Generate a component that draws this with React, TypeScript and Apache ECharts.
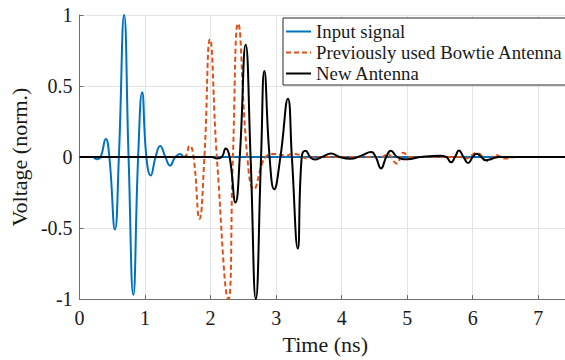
import React, { useEffect, useRef } from "react";
import * as echarts from "echarts";

// Input signal (time in ns, normalised voltage)
const inputT = [0, 0.2, 0.26, 0.32, 0.4, 0.455, 0.54, 0.6, 0.68, 0.748, 0.82, 0.894, 0.955, 1.02, 1.086, 1.16, 1.23, 1.31, 1.38, 1.46, 1.535, 1.6, 1.7, 7.5];
const inputV = [0, 0, -0.015, 0, 0.127, 0, -0.51, 0, 1.0, 0, -0.97, 0, 0.456, 0, -0.13, 0, 0.078, 0, -0.06, 0, 0.022, 0, 0, 0];

// Previously used Bowtie Antenna
const bowT = [0, 1.58, 1.68, 1.74, 1.83, 1.905, 1.99, 2.095, 2.27, 2.34, 2.42, 2.56, 2.66, 2.79, 2.84, 2.92, 3.02, 3.14, 3.25, 3.36, 3.47, 3.6, 4.6, 4.7, 4.84, 4.94, 5.05, 5.8, 5.9, 6.06, 6.24, 6.35, 6.5, 6.65, 7.5];
const bowV = [0, 0, 0.08, 0, -0.435, 0, 0.83, 0, -1.0, 0, 0.94, 0, -0.227, -0.04, 0, 0.022, 0.02, 0.01, 0.022, 0.015, -0.01, 0, 0, 0.02, -0.045, 0.03, 0, 0, -0.01, 0.03, -0.03, 0.015, -0.01, 0, 0];

// New Antenna
const newT = [0, 2.02, 2.1, 2.17, 2.23, 2.29, 2.38, 2.445, 2.535, 2.61, 2.69, 2.77, 2.82, 2.9, 2.97, 3.065, 3.18, 3.24, 3.33, 3.39, 3.45, 3.52, 3.59, 3.7, 3.84, 3.97, 4.13, 4.3, 4.45, 4.52, 4.6, 4.68, 4.75, 4.85, 5.0, 5.2, 5.52, 5.6, 5.67, 5.73, 5.79, 5.86, 5.93, 6.0, 6.06, 6.13, 6.2, 6.4, 6.55, 7.5];
const newV = [0, 0, -0.01, 0, 0.06, 0, -0.32, 0, 0.79, 0, -1.0, 0, 0.606, 0, -0.227, 0, 0.41, 0, -0.644, 0, 0.045, 0, -0.018, 0, 0.025, 0, -0.012, 0.01, 0.035, 0, -0.08, 0, 0.045, 0, -0.015, 0, 0.01, 0, -0.037, 0, 0.046, 0, -0.042, 0, 0.023, 0, -0.023, 0, 0, 0];

const seriesNames = ["Input signal", "Previously used Bowtie Antenna", "New Antenna"];
const seriesColors = ["#0072BD", "#D95319", "#000000"];

const zip = (t: number[], v: number[]) => t.map((x, i) => [x, v[i]]);

const FONT = "'Liberation Serif', 'Times New Roman', serif";
const AXIS = "#6e6e6e";
const TXT = "#1a1a1a";

export default function App() {
  const ref = useRef<HTMLDivElement>(null);
  useEffect(() => {
    const chart = echarts.init(ref.current!, null, { renderer: "svg" });
    const data = [zip(inputT, inputV), zip(bowT, bowV), zip(newT, newV)];
    chart.setOption({
      animation: false,
      backgroundColor: "#fff",
      grid: { left: 76, top: 15, bottom: 56, right: 9, containLabel: false },
      legend: {
        orient: "vertical",
        left: 283,
        top: 18,
        itemWidth: 25,
        itemHeight: 14,
        itemGap: 2,
        padding: [4, 40, 2, 2],
        borderColor: "#262626",
        borderWidth: 1,
        backgroundColor: "#fff",
        selectedMode: false,
        data: seriesNames,
        itemStyle: { opacity: 0, color: "rgba(0,0,0,0)", borderWidth: 0 },
        textStyle: { fontFamily: FONT, fontSize: 18.8, color: TXT },
      },
      xAxis: {
        type: "value",
        min: 0,
        max: 7.5,
        interval: 1,
        name: "Time (ns)",
        nameLocation: "middle",
        nameGap: 30,
        nameTextStyle: { fontFamily: FONT, fontSize: 22, color: TXT },
        axisLine: { show: true, onZero: false, lineStyle: { color: AXIS, width: 1 } },
        axisTick: { show: true, inside: true, length: 4, lineStyle: { color: AXIS } },
        axisLabel: { fontFamily: FONT, fontSize: 20, color: TXT, margin: 9, showMaxLabel: false },
        splitLine: { show: true, lineStyle: { color: "#e3e3e3", width: 1 } },
      },
      yAxis: {
        type: "value",
        min: -1,
        max: 1,
        interval: 0.5,
        name: "Voltage (norm.)",
        nameLocation: "middle",
        nameGap: 40,
        nameTextStyle: { fontFamily: FONT, fontSize: 22, color: TXT },
        axisLine: { show: true, lineStyle: { color: AXIS, width: 1 } },
        axisTick: { show: true, inside: true, length: 4, lineStyle: { color: AXIS } },
        axisLabel: { fontFamily: FONT, fontSize: 20, color: TXT, margin: 7 },
        splitLine: { show: true, lineStyle: { color: "#e3e3e3", width: 1 } },
      },
      series: seriesNames.map((name, i) => ({
        name,
        type: "line",
        data: data[i],
        symbol: "none",
        smooth: 0.5,
        clip: true,
        z: 2 + i,
        lineStyle: {
          color: seriesColors[i],
          width: 2,
          type: i === 1 ? [5, 3] : "solid",
        },
        itemStyle: { color: seriesColors[i] },
      })),
    });
    return () => chart.dispose();
  }, []);
  return (
    <div style={{ position: "fixed", left: 0, top: 0, width: 565, height: 360, overflow: "hidden", background: "#fff" }}>
      <div ref={ref} style={{ width: 580, height: 360 }} />
    </div>
  );
}
